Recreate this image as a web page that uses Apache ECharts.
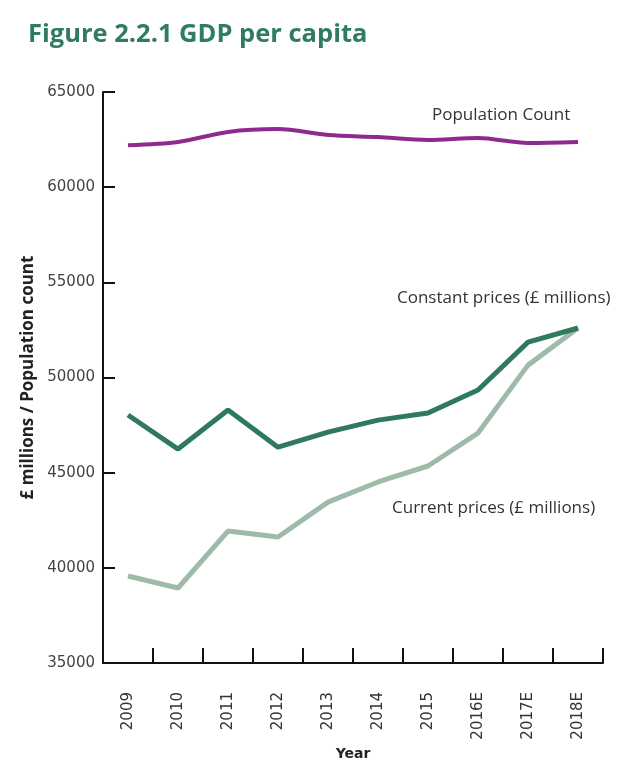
<!DOCTYPE html>
<html><head><meta charset="utf-8">
<script src="https://cdn.jsdelivr.net/npm/echarts@6/dist/echarts.min.js"></script>
<style>html,body{margin:0;padding:0;background:#fff}#c{width:640px;height:779px}</style>
</head><body><div id="c"></div>
<script>
const years = ['2009','2010','2011','2012','2013','2014','2015','2016E','2017E','2018E'];
const population = [62200, 62370, 62900, 63050, 62740, 62630, 62480, 62580, 62320, 62370];
const constantPrices = [48030, 46240, 48290, 46340, 47130, 47760, 48130, 49340, 51860, 52600];
const currentPrices = [39570, 38940, 41930, 41620, 43450, 44510, 45350, 47080, 50650, 52600];
const yTicks = [35000, 65000, 5000];

const chart = echarts.init(document.getElementById('c'));
chart.setOption({
  backgroundColor: '#fff',
  animation: false,
  title: {
    text: 'Figure 2.2.1 GDP per capita',
    left: 23, top: 17,
    textStyle: {fontFamily: 'Open Sans', fontWeight: 'bold', fontSize: 25.5, color: '#2F7D5E'}
  },
  grid: {left: 103, right: 37, top: 92, bottom: 116},
  xAxis: {
    type: 'category', data: years, boundaryGap: true,
    name: 'Year', nameLocation: 'middle', nameGap: 76,
    nameTextStyle: {fontFamily: 'DejaVu Sans', fontWeight: 'bold', fontSize: 14, color: '#222'},
    axisLine: {lineStyle: {color: '#111', width: 2}},
    axisTick: {show: true, inside: true, length: 15, lineStyle: {color: '#111', width: 2}},
    axisLabel: {rotate: 90, margin: 29, fontFamily: 'DejaVu Sans', fontSize: 15, color: '#333'},
    splitLine: {show: false}
  },
  yAxis: [{
    type: 'value', min: yTicks[0], max: yTicks[1], interval: yTicks[2],
    name: '£ millions / Population count', nameLocation: 'middle', nameGap: 57,
    nameTextStyle: {fontFamily: 'Open Sans', fontWeight: 'bold', fontSize: 17, color: '#222'},
    axisLine: {show: true, lineStyle: {color: '#111', width: 2}},
    axisTick: {show: false},
    axisLabel: {margin: 8, fontFamily: 'DejaVu Sans', fontSize: 15, color: '#444',
      formatter: function (v) { return String(v); }},
    splitLine: {show: false}
  }, {
    type: 'value', min: yTicks[0], max: yTicks[1], interval: yTicks[2],
    position: 'right', offset: -500,
    axisLine: {show: false},
    axisTick: {show: true, inside: false, length: 12, lineStyle: {color: '#111', width: 2}},
    axisLabel: {show: false},
    splitLine: {show: false}
  }],
  series: [
    {name: 'Population Count', type: 'line', data: population, smooth: 0.3, symbol: 'none',
     lineStyle: {color: '#8E2A8E', width: 4}},
    {name: 'Current prices (£ millions)', type: 'line', data: currentPrices, symbol: 'none',
     lineStyle: {color: '#9DBBA8', width: 5}},
    {name: 'Constant prices (£ millions)', type: 'line', data: constantPrices, symbol: 'none',
     lineStyle: {color: '#2F7A5C', width: 5}}
  ],
  graphic: [
    {type: 'text', x: 432, y: 115, style: {text: 'Population Count', font: '17px "Open Sans"', fill: '#333', verticalAlign: 'middle'}},
    {type: 'text', x: 397, y: 298, style: {text: 'Constant prices (£ millions)', font: '17px "Open Sans"', fill: '#333', verticalAlign: 'middle'}},
    {type: 'text', x: 392, y: 508, style: {text: 'Current prices (£ millions)', font: '17px "Open Sans"', fill: '#333', verticalAlign: 'middle'}}
  ]
});
</script></body></html>
